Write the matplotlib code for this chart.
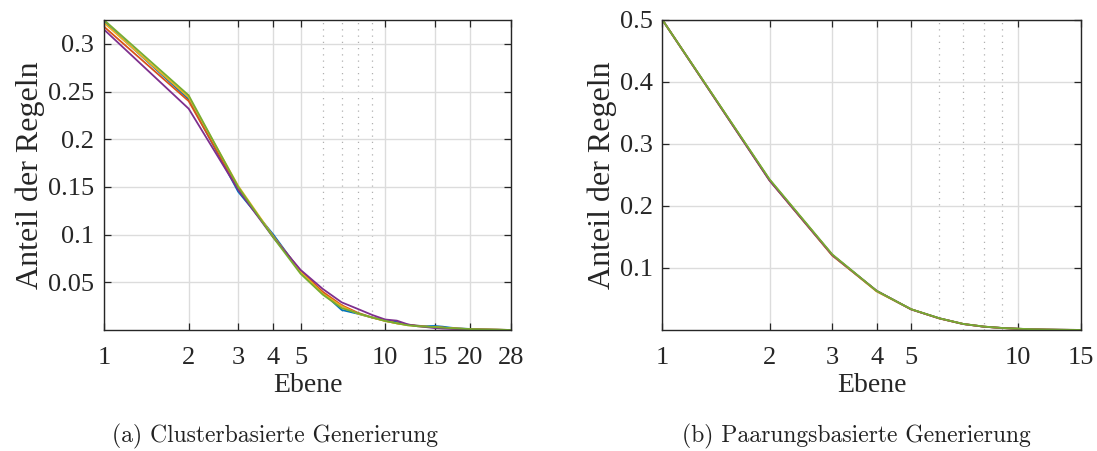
import matplotlib
matplotlib.use("Agg")
import matplotlib.pyplot as plt
from matplotlib.ticker import FixedLocator, NullFormatter

plt.rcParams['font.family'] = ['Liberation Serif', 'DejaVu Serif']

# Daten: Anteil der Regeln je Ebene (5 Läufe)
ebene_a = list(range(1, 29))
a_blue = [0.323, 0.242, 0.145, 0.100, 0.061, 0.039, 0.021, 0.017, 0.013, 0.0105,
          0.0085, 0.0055, 0.0045, 0.004, 0.0042, 0.0035, 0.0025, 0.0018, 0.0014, 0.0011,
          0.0008, 0.0006, 0.0005, 0.0004, 0.0003, 0.0002, 0.0001, 0.0]
a_orange = [0.318, 0.240, 0.148, 0.098, 0.062, 0.040, 0.026, 0.018, 0.013, 0.0095,
            0.007, 0.0055, 0.0045, 0.0035, 0.003, 0.0025, 0.002, 0.0015, 0.0012, 0.001,
            0.0008, 0.0006, 0.0005, 0.0004, 0.0003, 0.0002, 0.0001, 0.0]
a_yellow = [0.322, 0.244, 0.151, 0.098, 0.061, 0.038, 0.025, 0.017, 0.013, 0.0095,
            0.007, 0.005, 0.004, 0.0035, 0.003, 0.0024, 0.0019, 0.0015, 0.0012, 0.001,
            0.0008, 0.0006, 0.0005, 0.0004, 0.0003, 0.0002, 0.0001, 0.0]
a_purple = [0.315, 0.232, 0.147, 0.097, 0.063, 0.043, 0.029, 0.022, 0.0157, 0.011,
            0.0098, 0.006, 0.004, 0.003, 0.002, 0.0015, 0.0012, 0.001, 0.0008, 0.0006,
            0.0005, 0.0004, 0.0003, 0.0002, 0.0002, 0.0001, 0.0001, 0.0]
a_green = [0.325, 0.246, 0.150, 0.097, 0.059, 0.037, 0.023, 0.0175, 0.013, 0.0095,
           0.007, 0.005, 0.004, 0.0035, 0.003, 0.0025, 0.002, 0.0016, 0.0013, 0.001,
           0.0008, 0.0006, 0.0005, 0.0004, 0.0003, 0.0002, 0.0001, 0.0]

ebene_b = list(range(1, 16))
b_blue = [0.500, 0.242, 0.121, 0.063, 0.0333, 0.0188, 0.0097, 0.0054, 0.0032, 0.002,
          0.0012, 0.0007, 0.0004, 0.0002, 0.0001]
b_orange = [0.500, 0.241, 0.120, 0.063, 0.0332, 0.0186, 0.0096, 0.0053, 0.0031, 0.0019,
            0.0011, 0.0006, 0.0003, 0.0002, 0.0001]
b_yellow = [0.500, 0.242, 0.121, 0.062, 0.0334, 0.0187, 0.0098, 0.0055, 0.0032, 0.002,
            0.0012, 0.0007, 0.0004, 0.0002, 0.0001]
b_purple = [0.500, 0.241, 0.121, 0.063, 0.0333, 0.0188, 0.0097, 0.0054, 0.0033, 0.002,
            0.0011, 0.0006, 0.0004, 0.0002, 0.0001]
b_green = [0.500, 0.243, 0.122, 0.063, 0.0335, 0.0189, 0.0098, 0.0055, 0.0033, 0.0021,
           0.0012, 0.0007, 0.0004, 0.0002, 0.0001]

xticks_a = [1, 2, 3, 4, 5, 10, 15, 20, 28]
xticks_b = [1, 2, 3, 4, 5, 10, 15]
minor_x = [6, 7, 8, 9]
yticks_a = [0.05, 0.1, 0.15, 0.2, 0.25, 0.3]
ylabels_a = ['0.05', '0.1', '0.15', '0.2', '0.25', '0.3']
yticks_b = [0.1, 0.2, 0.3, 0.4, 0.5]
ylabels_b = ['0.1', '0.2', '0.3', '0.4', '0.5']

colors = ['#0072BD', '#D95319', '#EDB120', '#7E2F8E', '#77AC30']

fig = plt.figure(figsize=(10.97, 4.51), dpi=100)
ax1 = fig.add_axes([0.0948, 0.2683, 0.371, 0.6874])
ax2 = fig.add_axes([0.6039, 0.2683, 0.3815, 0.6874])


def style(ax, x, series, xticks, yticks, ylabels, xmax, ymax):
    for s, c in zip(series, colors):
        ax.plot(x, s, color=c, linewidth=1.3)
    ax.set_xscale('log')
    ax.set_xlim(1, xmax)
    ax.set_ylim(0, ymax)
    ax.xaxis.set_major_locator(FixedLocator(xticks))
    ax.set_xticklabels([str(t) for t in xticks])
    ax.xaxis.set_minor_locator(FixedLocator(minor_x))
    ax.xaxis.set_minor_formatter(NullFormatter())
    ax.set_yticks(yticks)
    ax.set_yticklabels(ylabels)
    ax.grid(True, which='major', color='#dcdcdc', linewidth=1.0)
    ax.grid(True, which='minor', axis='x', color='#b0b0b0', linestyle=(0, (1, 4)), linewidth=0.9)
    ax.tick_params(which='major', direction='in', length=5, width=0.9, top=True, right=True,
                   labelsize=19, colors='#262626')
    ax.tick_params(axis='x', which='major', pad=12)
    ax.tick_params(axis='y', which='major', pad=7)
    ax.tick_params(which='minor', length=0)
    for sp in ax.spines.values():
        sp.set_color('#262626')
        sp.set_linewidth(1.0)
    ax.set_xlabel('Ebene', fontsize=20, color='#262626', labelpad=3)
    ax.set_ylabel('Anteil der Regeln', fontsize=23, color='#262626', labelpad=2)
    ax.set_axisbelow(True)


style(ax1, ebene_a, [a_blue, a_orange, a_yellow, a_purple, a_green],
      xticks_a, yticks_a, ylabels_a, 28, 0.325)
style(ax2, ebene_b, [b_blue, b_orange, b_yellow, b_purple, b_green],
      xticks_b, yticks_b, ylabels_b, 15, 0.5)

fig.text(0.251, 0.033, '(a) Clusterbasierte Generierung', fontname='cmr10',
         fontsize=17, ha='center', va='center', color='#222222')
fig.text(0.781, 0.033, '(b) Paarungsbasierte Generierung', fontname='cmr10',
         fontsize=17, ha='center', va='center', color='#222222')

fig.savefig('out.png', dpi=100)
